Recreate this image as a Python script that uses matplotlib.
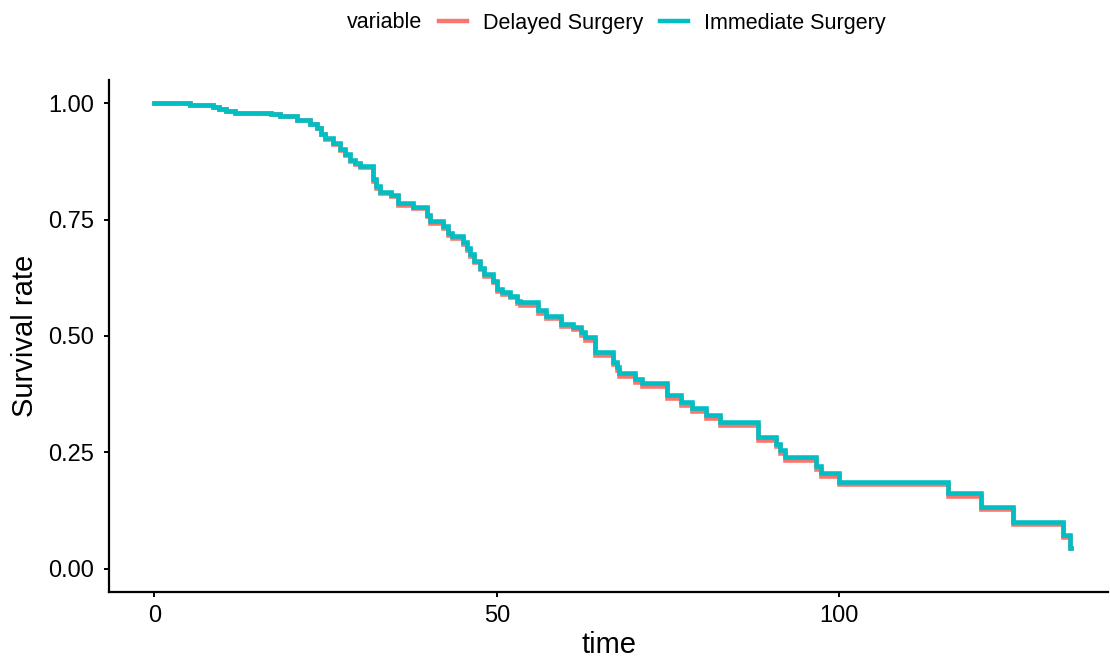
import matplotlib
matplotlib.use("Agg")
import matplotlib.pyplot as plt
from matplotlib.lines import Line2D

plt.rcParams['font.family'] = ['Liberation Sans', 'DejaVu Sans']

# Step times (post-step survival values)
time = [0, 5.2, 8.6, 9.5, 10.5, 11.8, 17.1, 18.4, 20.8, 22.7, 23.7, 24.3,
        24.9, 26.1, 27.1, 27.8, 28.6, 29.3, 30.0, 32.0, 32.4, 32.9, 34.6,
        35.6, 37.8, 39.8, 40.2, 42.2, 42.9, 43.4, 45.1, 45.6, 46.1, 46.6,
        47.5, 48.2, 49.5, 50.0, 50.7, 51.9, 52.9, 53.4, 56.0, 57.2, 59.4,
        61.1, 62.3, 62.8, 64.4, 67.0, 67.5, 67.9, 70.1, 71.2, 74.9, 76.9,
        78.5, 80.5, 82.6, 88.1, 90.7, 91.4, 92.1, 96.6, 97.3, 99.9, 115.8,
        120.6, 125.3, 132.6, 133.6, 133.8]

immediate = [1.000, 0.996, 0.992, 0.988, 0.984, 0.979, 0.976, 0.972, 0.963,
             0.956, 0.947, 0.935, 0.926, 0.915, 0.901, 0.890, 0.879, 0.872,
             0.865, 0.837, 0.822, 0.810, 0.803, 0.785, 0.777, 0.760, 0.747,
             0.737, 0.722, 0.715, 0.701, 0.688, 0.676, 0.662, 0.647, 0.633,
             0.619, 0.601, 0.594, 0.587, 0.576, 0.572, 0.555, 0.544, 0.526,
             0.519, 0.508, 0.497, 0.465, 0.444, 0.433, 0.420, 0.408, 0.398,
             0.373, 0.358, 0.345, 0.330, 0.315, 0.283, 0.269, 0.255, 0.239,
             0.221, 0.206, 0.187, 0.162, 0.133, 0.101, 0.073, 0.044, 0.044]

delayed = [1.000, 0.996, 0.992, 0.988, 0.984, 0.979, 0.976, 0.972, 0.963,
           0.956, 0.947, 0.934, 0.924, 0.913, 0.899, 0.888, 0.877, 0.870,
           0.863, 0.834, 0.819, 0.807, 0.800, 0.782, 0.774, 0.757, 0.743,
           0.733, 0.718, 0.711, 0.697, 0.684, 0.672, 0.658, 0.643, 0.629,
           0.615, 0.597, 0.590, 0.583, 0.571, 0.567, 0.550, 0.539, 0.521,
           0.514, 0.503, 0.492, 0.460, 0.439, 0.428, 0.415, 0.402, 0.392,
           0.367, 0.352, 0.339, 0.324, 0.309, 0.277, 0.263, 0.249, 0.233,
           0.215, 0.200, 0.182, 0.157, 0.128, 0.097, 0.069, 0.044, 0.044]

series_names = ["Delayed Surgery", "Immediate Surgery"]
colors = ["#F8766D", "#00BFC4"]

xticks = [0, 50, 100]
yticks = [0.00, 0.25, 0.50, 0.75, 1.00]
ytick_labels = ["0.00", "0.25", "0.50", "0.75", "1.00"]

fig = plt.figure(figsize=(11.10, 6.61), dpi=100)
ax = fig.add_axes([109 / 1110, 1 - 592 / 661, (1108 - 109) / 1110, (592 - 80) / 661])

lw = 3.3
ax.step(time, delayed, where='post', color=colors[0], lw=lw, solid_joinstyle='miter')
ax.step(time, immediate, where='post', color=colors[1], lw=lw, solid_joinstyle='miter')

ax.set_xlim(-6.6, 139.2)
ax.set_ylim(-0.05, 1.05)
ax.set_xticks(xticks)
ax.set_xticklabels([str(v) for v in xticks])
ax.set_yticks(yticks)
ax.set_yticklabels(ytick_labels)

for side in ['top', 'right']:
    ax.spines[side].set_visible(False)
for side in ['left', 'bottom']:
    ax.spines[side].set_linewidth(1.6)
    ax.spines[side].set_color('black')

ax.tick_params(axis='y', which='major', length=3.5, width=1.4, color='black',
               labelsize=17, labelcolor='black', pad=7.5)
ax.tick_params(axis='x', which='major', length=3.5, width=1.4, color='black',
               labelsize=17, labelcolor='black', pad=5.5)
ax.set_xlabel("time", fontsize=21, labelpad=3)
ax.set_ylabel("Survival rate", fontsize=21, labelpad=6)

# Legend on top
fig.text(347 / 1110, 1 - 23 / 661, "variable", fontsize=15.5, ha='left', va='center')
handles = [Line2D([0], [0], color=c, lw=3.2) for c in colors]
fig.legend(handles, series_names, loc='center left',
           bbox_to_anchor=(439 / 1110, 1 - 23 / 661), ncol=2, frameon=False,
           fontsize=15.5, handlelength=1.3, handletextpad=0.75, columnspacing=0.75,
           borderpad=0, borderaxespad=0)

fig.savefig("out.png", dpi=100)
